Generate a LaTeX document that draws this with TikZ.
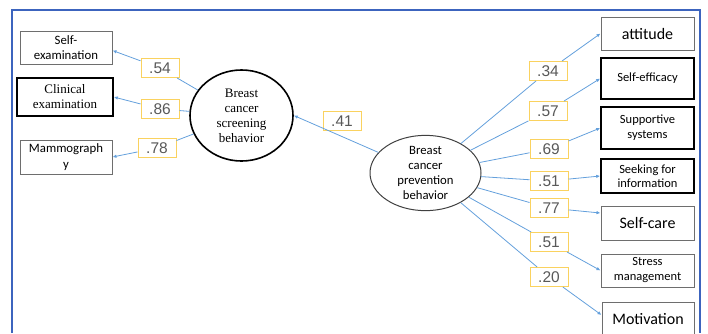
\documentclass[tikz,border=0pt]{standalone}
\usepackage{fontspec}
\setmainfont{Liberation Serif}
\newfontfamily\calibri{Carlito}
\newfontfamily\arial{Liberation Sans}
\usetikzlibrary{arrows.meta}
\usetikzlibrary{shapes.geometric}

\definecolor{framecol}{RGB}{60,100,190}
\definecolor{pathcol}{RGB}{100,160,220}
\definecolor{coefcol}{RGB}{250,210,95}
\definecolor{boxgray}{RGB}{110,110,110}

\tikzset{
	obsbox/.style={draw=boxgray, line width=1pt, inner sep=1pt, align=center, text=black},
	obsboxb/.style={draw=black, line width=1.6pt, inner sep=1pt, align=center, text=black},
	latent/.style={ellipse, draw, align=center, inner sep=0pt, text=black},
	coef/.style={draw=coefcol, line width=1pt, fill=white, minimum width=38pt, minimum height=19pt, inner sep=0pt, text=black!65, font=\arial\fontsize{15.5}{16}\selectfont},
	effect/.style={draw=pathcol, line width=0.8pt, -{Latex[length=4pt,width=3.5pt]}}
}

\begin{document}
\begin{tikzpicture}[x=1pt, y=-1pt]
	\useasboundingbox (0,0) rectangle (708,333);
	% frame
	\draw[framecol, line width=2pt] (11.5,333) -- (11.5,10) -- (699.5,10) -- (699.5,333);

	% latent variables
	\node[latent, line width=1.6pt, minimum width=103pt, minimum height=91pt, font=\fontsize{13}{15}\selectfont] (scr) at (241.5,115.5) {Breast\\cancer\\screening\\behavior};
	\node[latent, draw=black!75, line width=1pt, minimum width=111pt, minimum height=72pt, font=\calibri\fontsize{12.7}{15}\selectfont] (prev) at (425.5,173) {Breast\\cancer\\prevention\\behavior};

	% screening indicators
	\node[obsbox, minimum width=92pt, minimum height=33pt, font=\calibri\fontsize{12.8}{15}\selectfont] (selfex) at (66,47.5) {Self-\\examination};
	\node[obsboxb, minimum width=96pt, minimum height=38pt, font=\fontsize{13}{15}\selectfont] (clinex) at (65,97) {Clinical\\examination};
	\node[obsbox, minimum width=92pt, minimum height=34pt, font=\calibri\fontsize{12.8}{16}\selectfont] (mammo) at (66,157) {Mammograph\\y};

	% prevention indicators
	\node[obsbox, minimum width=93pt, minimum height=33pt, font=\calibri\fontsize{16}{18}\selectfont] (att) at (647.5,33.5) {attitude};
	\node[obsboxb, minimum width=93pt, minimum height=41pt, font=\calibri\fontsize{12.5}{15}\selectfont] (seff) at (647.5,78.5) {Self-efficacy};
	\node[obsboxb, minimum width=93pt, minimum height=42pt, font=\calibri\fontsize{12.5}{15}\selectfont] (supp) at (647.5,128) {Supportive\\systems};
	\node[obsboxb, minimum width=93pt, minimum height=34pt, font=\calibri\fontsize{12.5}{14.5}\selectfont] (seek) at (647.5,176) {Seeking for\\information};
	\node[obsbox, minimum width=93pt, minimum height=34pt, font=\calibri\fontsize{16}{18}\selectfont] (scare) at (647.5,223) {Self-care};
	\node[obsbox, minimum width=93pt, minimum height=33pt, font=\calibri\fontsize{12.5}{15}\selectfont] (stress) at (647.5,270.5) {Stress\\management};
	\node[obsbox, minimum width=92pt, minimum height=34pt, font=\calibri\fontsize{16}{18}\selectfont] (motiv) at (648,319) {Motivation};

	% coefficients
	\node[coef] (c54) at (160,68) {.54};
	\node[coef] (c86) at (160,109) {.86};
	\node[coef] (c78) at (157,148) {.78};
	\node[coef] (c41) at (342,121) {.41};
	\node[coef] (c34) at (548,71) {.34};
	\node[coef] (c57) at (548,111) {.57};
	\node[coef] (c69) at (549,149) {.69};
	\node[coef] (c51a) at (549,181) {.51};
	\node[coef] (c77) at (549,208) {.77};
	\node[coef] (c51b) at (549,242) {.51};
	\node[coef] (c20) at (549,277) {.20};

	% paths
	\draw[effect] (scr) -- (c54) -- ([yshift=-3pt]selfex.east);
	\draw[effect] (scr) -- (c86) -- (clinex.east);
	\draw[effect] (scr) -- (c78) -- (mammo.east);
	\draw[effect] (prev) -- (scr.east);
	\draw[effect] (prev) -- (c34) -- (att.west);
	\draw[effect] (prev) -- (c57) -- (seff.west);
	\draw[effect] (prev) -- (c69) -- (supp.west);
	\draw[effect] (prev) -- (c51a) -- (seek.west);
	\draw[effect] (prev) -- (c77) -- ([yshift=10pt]scare.west);
	\draw[effect] (prev) -- (c51b) -- (stress.west);
	\draw[effect] (prev) -- (c20) -- ([yshift=4pt]motiv.west);
\end{tikzpicture}
\end{document}
